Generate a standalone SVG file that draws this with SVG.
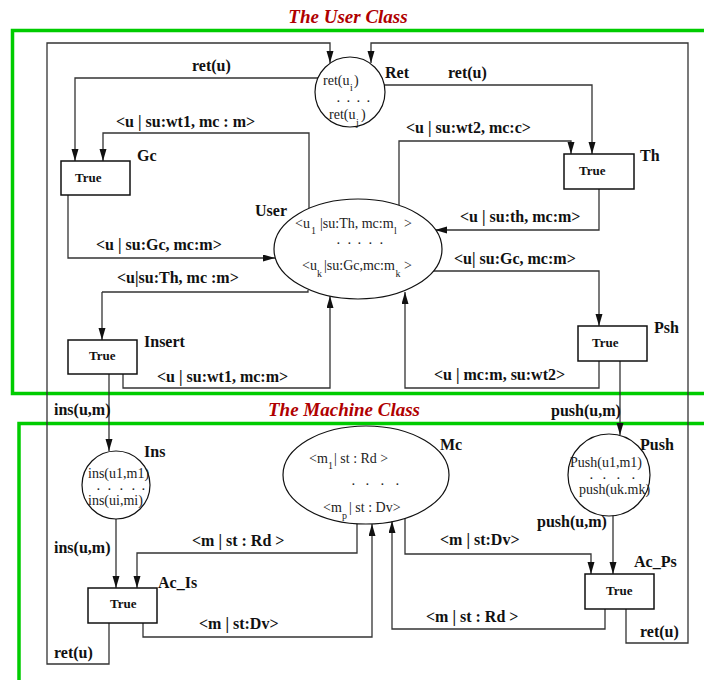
<svg xmlns="http://www.w3.org/2000/svg" width="704" height="680" viewBox="0 0 704 680">
<style>
.cls{fill:none;stroke:#00cc00;stroke-width:3.5}
.title{font-family:"Liberation Serif","Times New Roman",serif;font-weight:bold;font-style:italic;font-size:19px;fill:#b00000;text-anchor:middle}
.lbl{font-family:"Liberation Serif","Times New Roman",serif;font-weight:bold;font-size:16px;fill:#111}
.tru{font-family:"Liberation Serif","Times New Roman",serif;font-weight:bold;font-size:13px;fill:#111}
.tk{font-family:"Liberation Serif","Times New Roman",serif;font-size:14px;fill:#222}
.sub{font-size:10px}
.dots{font-size:11px;font-weight:bold}
.box{fill:#fff;stroke:#111;stroke-width:1.5}
.place{fill:#fff;stroke:#111;stroke-width:1.2}
.edge{fill:none;stroke:#333;stroke-width:1.3;marker-end:url(#ah)}
.edge0{fill:none;stroke:#333;stroke-width:1.3}
</style>
<defs>
<marker id="ah" markerUnits="userSpaceOnUse" markerWidth="12" markerHeight="8" refX="12" refY="3.5" orient="auto">
<path d="M0,0 L12,3.5 L0,7 z" fill="#111"/>
</marker>
</defs>
<rect width="704" height="680" fill="#fff"/>

<g id="classes">
<rect class="cls" x="12.5" y="30.5" width="700" height="363"/>
<rect class="cls" x="19" y="423.5" width="700" height="270"/>
<text class="title" x="348" y="23">The User Class</text>
<text class="title" x="344" y="416">The Machine Class</text>
</g>

<g id="connectors">
<path class="edge" d="M318,78 H75 V161"/>
<path class="edge" d="M309,208 V133 H103 V161"/>
<path class="edge" d="M68,195 V258 H275"/>
<path class="edge" d="M384,85 H592 V154"/>
<path class="edge" d="M399,205 V141 H571 V154"/>
<path class="edge" d="M599,189 V230 H435"/>
<path class="edge" d="M433,271 H599 V326"/>
<path class="edge" d="M599,361 V388 H405 V292"/>
<path class="edge0" d="M308,290 V292 H102"/>
<path class="edge" d="M102,292 V340"/>
<path class="edge" d="M123,374 V388 H330 V296"/>
<path class="edge" d="M109,374 V451"/>
<path class="edge" d="M620,361 V435"/>
<path class="edge" d="M116,519 V588"/>
<path class="edge" d="M357,523 V553 H137 V588"/>
<path class="edge" d="M143,623 V637 H372 V524"/>
<path class="edge" d="M405,518 V554 H591 V574"/>
<path class="edge" d="M605,609 V629 H392 V521"/>
<path class="edge" d="M613,506 V574"/>
<path class="edge" d="M109,623 V664 H47 V43 H330 V63"/>
<path class="edge" d="M626,609 V643 H688 V43 H371 V63"/>

<text class="lbl" x="192" y="71">ret(u)</text>
<text class="lbl" x="116" y="127">&lt;u | su:wt1, mc : m&gt;</text>
<text class="lbl" x="448" y="78">ret(u)</text>
<text class="lbl" x="406" y="133">&lt;u | su:wt2, mc:c&gt;</text>
<text class="lbl" x="460" y="222">&lt;u | su:th, mc:m&gt;</text>
<text class="lbl" x="96" y="250">&lt;u | su:Gc, mc:m&gt;</text>
<text class="lbl" x="454" y="264">&lt;u| su:Gc, mc:m&gt;</text>
<text class="lbl" x="117" y="283">&lt;u|su:Th, mc :m&gt;</text>
<text class="lbl" x="157" y="382">&lt;u | su:wt1, mc:m&gt;</text>
<text class="lbl" x="434" y="380">&lt;u | mc:m, su:wt2&gt;</text>
<text class="lbl" x="54" y="415">ins(u,m)</text>
<text class="lbl" x="551" y="416">push(u,m)</text>
<text class="lbl" x="192" y="546">&lt;m | st : Rd &gt;</text>
<text class="lbl" x="440" y="545">&lt;m | st:Dv&gt;</text>
<text class="lbl" x="537" y="527">push(u,m)</text>
<text class="lbl" x="54" y="553">ins(u,m)</text>
<text class="lbl" x="199" y="629">&lt;m | st:Dv&gt;</text>
<text class="lbl" x="426" y="622">&lt;m | st : Rd &gt;</text>
<text class="lbl" x="640" y="637">ret(u)</text>
<text class="lbl" x="54" y="658">ret(u)</text>
</g>

<g id="Ret">
<ellipse class="place" cx="350" cy="92" rx="35" ry="35"/>
<text class="tk" x="323" y="85">ret(u<tspan class="sub" x="350" dy="6">i</tspan><tspan x="354" dy="-6">)</tspan><tspan class="dots" x="337 347 357 367" y="102">....</tspan><tspan x="329" y="119">ret(u</tspan><tspan class="sub" x="356" dy="7">j</tspan><tspan x="361" dy="-7">)</tspan></text>
<text class="lbl" x="385" y="78">Ret</text>
</g>

<g id="Gc">
<rect class="box" x="61" y="161" width="69" height="34"/>
<text class="tru" x="75" y="182">True</text>
<text class="lbl" x="137" y="161">Gc</text>
</g>

<g id="Th">
<rect class="box" x="564" y="154" width="70" height="35"/>
<text class="tru" x="579" y="175">True</text>
<text class="lbl" x="640" y="161">Th</text>
</g>

<g id="User">
<ellipse class="place" cx="358" cy="249" rx="84" ry="50"/>
<text class="tk" x="295" y="228">&lt;u<tspan class="sub" x="311" dy="6">1</tspan><tspan x="320" dy="-6">|su:Th, mc:m</tspan><tspan class="sub" x="394" dy="6">l</tspan><tspan x="404" dy="-6">&gt;</tspan><tspan class="dots" x="337 348 358 369 380" y="244">.....</tspan><tspan x="302" y="270">&lt;u</tspan><tspan class="sub" x="317" dy="7">k</tspan><tspan x="324" dy="-7">|su:Gc,mc:m</tspan><tspan class="sub" x="395.5" dy="7">k</tspan><tspan x="404" dy="-7">&gt;</tspan></text>
<text class="lbl" x="255" y="216">User</text>
</g>

<g id="Insert">
<rect class="box" x="68" y="340" width="69" height="34"/>
<text class="tru" x="89" y="360">True</text>
<text class="lbl" x="144" y="347">Insert</text>
</g>

<g id="Psh">
<rect class="box" x="578" y="326" width="69" height="35"/>
<text class="tru" x="592" y="347">True</text>
<text class="lbl" x="654" y="333">Psh</text>
</g>

<g id="Ins">
<ellipse class="place" cx="116" cy="485" rx="34" ry="34"/>
<text class="tk" x="88" y="478">ins(u1,m1)<tspan class="dots" x="97 108 120 132 142" y="490">.....</tspan><tspan x="88" y="505">ins(ui,mi)</tspan></text>
<text class="lbl" x="144" y="457">Ins</text>
</g>

<g id="Mc">
<ellipse class="place" cx="366" cy="475" rx="83" ry="49"/>
<text class="tk" x="309" y="463">&lt;m<tspan class="sub" x="328" dy="6">1</tspan><tspan x="334" dy="-6">| st : Rd &gt;</tspan><tspan class="dots" x="352 366 381 396" y="485">....</tspan><tspan x="323" y="512">&lt;m</tspan><tspan class="sub" x="342" dy="7">p</tspan><tspan x="349" dy="-7">| st : Dv&gt;</tspan></text>
<text class="lbl" x="440" y="450">Mc</text>
</g>

<g id="Push">
<ellipse class="place" cx="609" cy="475" rx="41" ry="41"/>
<text class="tk" x="570" y="467">Push(u1,m1)<tspan class="dots" x="590 603 617 632" y="479">....</tspan><tspan x="579" y="494">push(uk.mk)</tspan></text>
<text class="lbl" x="640" y="450">Push</text>
</g>

<g id="Ac_Is">
<rect class="box" x="88" y="588" width="69" height="35"/>
<text class="tru" x="110" y="608">True</text>
<text class="lbl" x="158" y="588">Ac_Is</text>
</g>

<g id="Ac_Ps">
<rect class="box" x="585" y="574" width="69" height="35"/>
<text class="tru" x="606" y="595">True</text>
<text class="lbl" x="634" y="567">Ac_Ps</text>
</g>
</svg>
